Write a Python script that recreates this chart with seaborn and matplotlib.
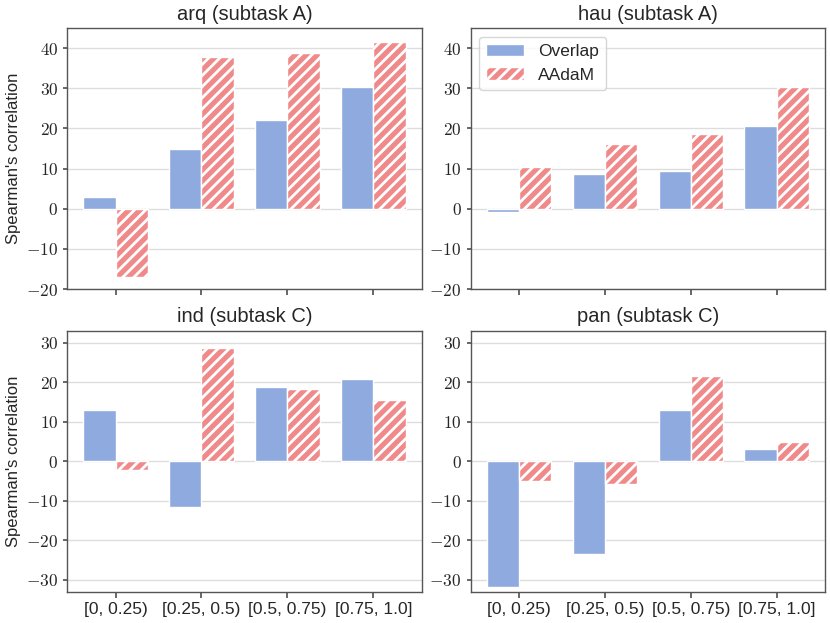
import numpy as np
import pandas as pd
import seaborn as sns
import matplotlib.pyplot as plt
from matplotlib.ticker import FuncFormatter

sns.set_theme(style="white")
plt.rcParams['font.family'] = ['Liberation Sans', 'DejaVu Sans']
plt.rcParams['mathtext.fontset'] = 'cm'
plt.rcParams['hatch.linewidth'] = 2.0

bins = ["[0, 0.25)", "[0.25, 0.5)", "[0.5, 0.75)", "[0.75, 1.0]"]
methods = ["Overlap", "AAdaM"]
titles = ["arq (subtask A)", "hau (subtask A)", "ind (subtask C)", "pan (subtask C)"]

arq_overlap = [3.0, 15.0, 22.0, 30.3]
arq_aadam = [-17.0, 37.7, 38.8, 41.5]
hau_overlap = [-0.7, 8.7, 9.5, 20.5]
hau_aadam = [10.5, 16.2, 18.7, 30.3]
ind_overlap = [13.0, -11.5, 18.9, 20.8]
ind_aadam = [-2.2, 28.7, 18.2, 15.4]
pan_overlap = [-31.7, -23.5, 13.0, 3.2]
pan_aadam = [-5.0, -5.7, 21.5, 5.0]

series = [(arq_overlap, arq_aadam), (hau_overlap, hau_aadam),
          (ind_overlap, ind_aadam), (pan_overlap, pan_aadam)]

palette = {"Overlap": "#8eaadf", "AAdaM": "#f08a8a"}

fig, axes = plt.subplots(2, 2, figsize=(8.3, 6.23), dpi=100, sharex=True)
fig.subplots_adjust(left=0.081, right=0.994, top=0.955, bottom=0.05,
                    wspace=0.138, hspace=0.16)
axes = axes.ravel()

for i, (ax, title, (ov, aa)) in enumerate(zip(axes, titles, series)):
    df = pd.DataFrame({
        "bin": bins * 2,
        "method": ["Overlap"] * 4 + ["AAdaM"] * 4,
        "value": ov + aa,
    })
    sns.barplot(data=df, x="bin", y="value", hue="method", order=bins,
                hue_order=methods, palette=palette, ax=ax, edgecolor="white",
                linewidth=1, saturation=1, width=0.75, legend=False)
    for bar in ax.patches[4:8]:
        bar.set_hatch("///")
    ax.set_xlim(-0.5625, 3.5625)
    ax.set_title(title, fontsize=14.5)
    ax.set_xlabel("")
    ax.set_ylabel("Spearman's correlation" if i % 2 == 0 else "", fontsize=12)
    if i < 2:
        ax.set_ylim(-20, 45)
        ax.set_yticks(np.arange(-20, 41, 10))
    else:
        ax.set_ylim(-33, 33)
        ax.set_yticks(np.arange(-30, 31, 10))
    ax.yaxis.set_major_formatter(FuncFormatter(lambda v, p: f"${v:g}$"))
    ax.yaxis.grid(True, color="#dddddd", linewidth=1)
    ax.set_axisbelow(True)
    for s in ax.spines.values():
        s.set_color("#555555")
        s.set_linewidth(1)
    ax.tick_params(axis="x", bottom=True, length=4, color="#555555", labelsize=12.5)
    ax.tick_params(axis="y", left=True, length=3, color="#555555", labelsize=12.5)

axes[1].legend(handles=[axes[1].patches[0], axes[1].patches[4]], labels=methods,
               loc="upper left", fontsize=12.5, frameon=True, edgecolor="#cccccc",
               handlelength=2.2)

fig.savefig("out.png", dpi=100)
